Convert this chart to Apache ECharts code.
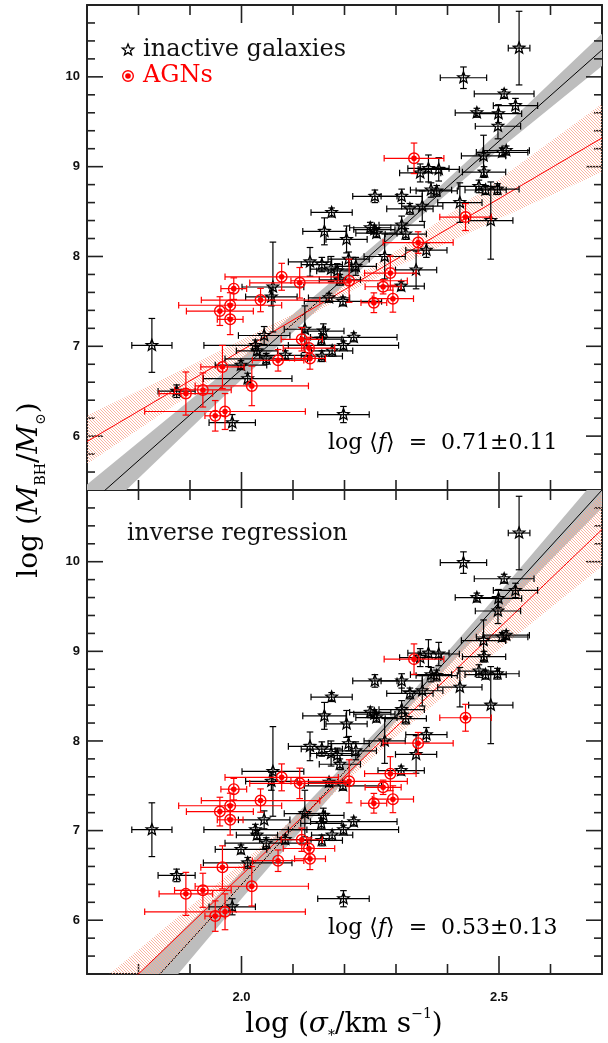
<!DOCTYPE html>
<html>
<head>
<meta charset="utf-8">
<script src="https://cdn.jsdelivr.net/npm/echarts@6/dist/echarts.min.js"></script>
<style>
  html, body { margin: 0; padding: 0; background: #fff; }
  #chart { width: 608px; height: 1043px; }
</style>
</head>
<body>
<div id="chart"></div>
<script>
// inactive galaxies: log sigma, log M_BH (same in both panels)
const inactiveSigma = [2.539, 2.431, 2.510, 2.532, 2.457, 2.499, 2.498, 2.506, 2.514, 2.470,
  2.471, 2.461, 2.474, 2.497, 2.484, 2.424, 2.347, 2.363, 2.383, 2.368,
  2.379, 2.259, 2.311, 2.327, 2.351, 2.311, 2.319, 2.250, 2.258, 2.262,
  2.204, 2.278, 2.359, 2.208, 2.175, 2.161, 2.133, 2.156, 2.174, 2.186,
  2.191, 2.222, 2.310, 2.061, 2.058, 2.170, 2.197, 2.123, 2.159, 2.155,
  2.218, 2.198, 2.176, 2.156, 2.085, 2.044, 2.027, 2.048, 2.030, 1.999,
  2.012, 1.826, 1.874, 1.982, 2.198, 2.339]
const inactiveSigmaErr = [0.021, 0.045, 0.058, 0.043, 0.042, 0.045, 0.044, 0.05, 0.045, 0.043,
  0.042, 0.04, 0.04, 0.042, 0.043, 0.043, 0.04, 0.04, 0.04, 0.04,
  0.04, 0.043, 0.04, 0.045, 0.04, 0.044, 0.04, 0.04, 0.04, 0.04,
  0.04, 0.04, 0.04, 0.04, 0.04, 0.042, 0.042, 0.04, 0.04, 0.04,
  0.04, 0.04, 0.045, 0.06, 0.05, 0.04, 0.075, 0.04, 0.04, 0.04,
  0.084, 0.107, 0.04, 0.04, 0.05, 0.05, 0.1, 0.08, 0.04, 0.05,
  0.086, 0.039, 0.036, 0.045, 0.05, 0.04]
const inactiveMass = [10.32, 9.99, 9.81, 9.68, 9.60, 9.59, 9.45, 9.16, 9.18, 9.12,
  8.94, 8.78, 8.74, 8.75, 8.40, 8.60, 8.93, 8.98, 8.97, 8.74,
  8.73, 8.67, 8.67, 8.53, 8.56, 8.35, 8.25, 8.32, 8.30, 8.26,
  8.19, 8.00, 8.07, 7.97, 8.49, 8.28, 7.94, 7.91, 7.86, 7.84,
  7.74, 7.89, 7.67, 7.66, 7.55, 7.54, 7.50, 7.19, 7.17, 7.08,
  7.10, 7.01, 6.95, 6.89, 6.90, 7.12, 7.01, 6.86, 6.95, 6.79,
  6.64, 7.01, 6.50, 6.15, 6.24, 7.85]
const inactiveMassErr = [0.41, 0.12, 0.05, 0.08, 0.05, 0.10, 0.14, 0.05, 0.05, 0.23,
  0.06, 0.07, 0.05, 0.06, 0.43, 0.22, 0.10, 0.15, 0.13, 0.08,
  0.06, 0.07, 0.08, 0.06, 0.17, 0.10, 0.06, 0.06, 0.05, 0.05,
  0.15, 0.25, 0.08, 0.08, 0.05, 0.15, 0.16, 0.08, 0.14, 0.08,
  0.06, 0.10, 0.05, 0.50, 0.10, 0.05, 0.05, 0.26, 0.08, 0.06,
  0.05, 0.05, 0.06, 0.06, 0.05, 0.10, 0.06, 0.06, 0.05, 0.05,
  0.06, 0.30, 0.07, 0.09, 0.09, 0.21]

// AGNs: log sigma, log virial product; mass = virial product + log f
const agnSigma = [2.078, 2.113, 1.985, 1.978, 1.958, 1.978, 2.037, 1.963, 1.925, 1.892,
  2.020, 1.949, 1.968, 2.071, 2.117, 2.131, 2.133, 2.209, 2.289, 2.275,
  2.257, 2.294, 2.335, 2.435, 2.343]
const agnSigmaErr = [0.11, 0.097, 0.025, 0.10, 0.065, 0.025, 0.115, 0.042, 0.055, 0.052,
  0.11, 0.02, 0.156, 0.05, 0.04, 0.05, 0.03, 0.113, 0.05, 0.035,
  0.025, 0.04, 0.058, 0.05, 0.068]
const agnVirial = [7.064, 6.997, 6.932, 6.747, 6.682, 6.590, 6.805, 6.060, 5.804, 5.764,
  5.849, 5.516, 5.564, 6.134, 6.368, 6.270, 6.155, 7.020, 7.105, 6.953,
  6.775, 6.820, 8.383, 7.729, 7.445]
const agnVirialErr = [0.15, 0.17, 0.12, 0.14, 0.16, 0.17, 0.13, 0.24, 0.19, 0.24,
  0.22, 0.17, 0.20, 0.12, 0.13, 0.12, 0.12, 0.24, 0.19, 0.08,
  0.11, 0.15, 0.17, 0.15, 0.12]
const logF = [0.71, 0.53]
const logFErr = [0.11, 0.13]

// fits, per panel (top, bottom)
const fitX = [1.7, 2.7]
const inactiveFit = [[5.22, 10.30], [4.51, 10.80]]
const agnFit = [[5.94, 9.32], [4.85, 10.36]]
const grayBandX = [1.7, 2.0, 2.3, 2.5, 2.7]
const grayLow = [[4.98, 6.63, 8.21, 9.19, 10.12], [4.19, 6.24, 8.22, 9.43, 10.60]]
const grayHigh = [[5.46, 6.87, 8.33, 9.39, 10.48], [4.83, 6.54, 8.34, 9.65, 11.00]]
const redBandX = [1.7, 1.9, 2.1, 2.2, 2.3, 2.5, 2.7]
const redLow = [[5.69, 6.46, 7.22, 7.57, 7.88, 8.42, 8.94], [4.51, 5.75, 6.97, 7.53, 8.05, 9.02, 9.95]]
const redHigh = [[6.23, 6.78, 7.36, 7.69, 8.06, 8.86, 9.70], [5.19, 6.15, 7.13, 7.67, 8.25, 9.50, 10.77]]

// axes and ticks
const xRange = [1.7, 2.7]
const yRange = [5.4, 10.8]
const xMajor = [2.0, 2.5]
const xMinor = [1.8, 1.9, 2.1, 2.2, 2.3, 2.4, 2.6]
const yMajor = [6, 7, 8, 9, 10]
const yMinor = [5.6, 5.8, 6.2, 6.4, 6.6, 6.8, 7.2, 7.4, 7.6, 7.8, 8.2, 8.4, 8.6, 8.8,
  9.2, 9.4, 9.6, 9.8, 10.2, 10.4, 10.6]

const RED = '#ff0000'
const INK = '#000'
const AXIS = '#222'
const SERIF = '"DejaVu Serif", serif'

// hatch pattern for the AGN band
const hatch = document.createElement('canvas')
hatch.width = 3
hatch.height = 3
const hctx = hatch.getContext('2d')
hctx.strokeStyle = '#f9ab96'
hctx.lineWidth = 0.9
hctx.beginPath()
hctx.moveTo(0, 0); hctx.lineTo(3, 3)
hctx.moveTo(-1, 2); hctx.lineTo(1, 4)
hctx.moveTo(2, -1); hctx.lineTo(4, 1)
hctx.stroke()

function starPoints (cx, cy, R, r) {
  const pts = []
  for (let i = 0; i < 10; i++) {
    const a = -Math.PI / 2 + i * Math.PI / 5
    const rad = i % 2 ? r : R
    pts.push([cx + rad * Math.cos(a), cy + rad * Math.sin(a)])
  }
  return pts
}

function starShape (cx, cy) {
  return { type: 'polygon', shape: { points: starPoints(cx, cy, 6, 2.6) }, style: { fill: 'none', stroke: INK, lineWidth: 1.3 } }
}

function agnShape (cx, cy) {
  return [
    { type: 'circle', shape: { cx: cx, cy: cy, r: 5.3 }, style: { fill: 'none', stroke: RED, lineWidth: 1.4 } },
    { type: 'circle', shape: { cx: cx, cy: cy, r: 2.8 }, style: { fill: RED } }
  ]
}

// error bars + marker
function pointRenderer (color, marker) {
  return function (params, api) {
    const x = api.value(0)
    const y = api.value(1)
    const xe = api.value(2)
    const ye = api.value(3)
    const c = api.coord([x, y])
    const l = api.coord([x - xe, y])
    const r = api.coord([x + xe, y])
    const t = api.coord([x, y + ye])
    const b = api.coord([x, y - ye])
    const cap = 3.3
    const st = { stroke: color, lineWidth: 1.2 }
    const seg = (x1, y1, x2, y2) => ({ type: 'line', shape: { x1: x1, y1: y1, x2: x2, y2: y2 }, style: st })
    const children = [
      seg(l[0], l[1], r[0], r[1]),
      seg(l[0], l[1] - cap, l[0], l[1] + cap),
      seg(r[0], r[1] - cap, r[0], r[1] + cap),
      seg(t[0], t[1], b[0], b[1]),
      seg(t[0] - cap, t[1], t[0] + cap, t[1]),
      seg(b[0] - cap, b[1], b[0] + cap, b[1])
    ]
    return { type: 'group', children: children.concat(marker(c[0], c[1])) }
  }
}

function bandPolygon (api, xs, lo, hi, style) {
  const pts = []
  xs.forEach((x, i) => pts.push(api.coord([x, lo[i]])))
  for (let i = xs.length - 1; i >= 0; i--) pts.push(api.coord([xs[i], hi[i]]))
  return { type: 'polygon', shape: { points: pts }, style: style }
}

// inside ticks on the four sides, as thin filled bars
function tickBars (api) {
  const out = []
  const bar = (a, b, w) => {
    const pts = Math.abs(a[0] - b[0]) < 0.01
      ? [[a[0] - w, a[1]], [a[0] + w, a[1]], [b[0] + w, b[1]], [b[0] - w, b[1]]]
      : [[a[0], a[1] - w], [a[0], a[1] + w], [b[0], b[1] + w], [b[0], b[1] - w]]
    out.push({ type: 'polygon', shape: { points: pts }, style: { fill: AXIS } })
  }
  const xTick = (v, len) => {
    const bot = api.coord([v, yRange[0]])
    const top = api.coord([v, yRange[1]])
    bar(bot, [bot[0], bot[1] - len], 0.8)
    bar(top, [top[0], top[1] + len], 0.8)
  }
  const yTick = (v, len) => {
    const lft = api.coord([xRange[0], v])
    const rgt = api.coord([xRange[1], v])
    bar(lft, [lft[0] + len, lft[1]], 0.8)
    bar(rgt, [rgt[0] - len, rgt[1]], 0.8)
  }
  xMajor.forEach(v => xTick(v, 18))
  xMinor.forEach(v => xTick(v, 10))
  yMajor.forEach(v => yTick(v, 16))
  yMinor.forEach(v => yTick(v, 8))
  return out
}

// gray band of the inactive fit, with the frame ticks in the same group
function grayBandRenderer (p) {
  return function (params, api) {
    const band = bandPolygon(api, grayBandX, grayLow[p], grayHigh[p], { fill: '#bdbdbd' })
    return { type: 'group', children: [band].concat(tickBars(api)) }
  }
}

function redBandRenderer (p) {
  return function (params, api) {
    return bandPolygon(api, redBandX, redLow[p], redHigh[p], { fill: { image: hatch, repeat: 'repeat' } })
  }
}

const tickFont = { color: '#111', fontFamily: 'Liberation Sans', fontWeight: 'bold', fontSize: 13 }

function xAxes (grid, showLabels) {
  const base = { gridIndex: grid, type: 'value', min: xRange[0], max: xRange[1], splitLine: { show: false }, axisTick: { show: false } }
  const line = { show: true, onZero: false, lineStyle: { color: AXIS, width: 2 } }
  return [
    Object.assign({}, base, {
      position: 'bottom', axisLine: line,
      axisLabel: Object.assign({ show: showLabels, customValues: xMajor, formatter: v => v.toFixed(1), margin: 17 }, tickFont)
    }),
    Object.assign({}, base, { position: 'top', axisLine: line, axisLabel: { show: false } })
  ]
}

function yAxes (grid) {
  const base = { gridIndex: grid, type: 'value', min: yRange[0], max: yRange[1], splitLine: { show: false }, axisTick: { show: false } }
  const line = { show: true, onZero: false, lineStyle: { color: AXIS, width: 2 } }
  return [
    Object.assign({}, base, {
      position: 'left', axisLine: line,
      axisLabel: Object.assign({ show: true, customValues: yMajor, formatter: v => String(v), margin: 7 }, tickFont)
    }),
    Object.assign({}, base, { position: 'right', axisLine: line, axisLabel: { show: false } })
  ]
}

function panelSeries (p) {
  const ax = { xAxisIndex: p * 2, yAxisIndex: p * 2 }
  const inactiveData = inactiveSigma.map((x, i) => [x, inactiveMass[i], inactiveSigmaErr[i], inactiveMassErr[i]])
  const agnData = agnSigma.map((x, i) => [x, agnVirial[i] + logF[p], agnSigmaErr[i], agnVirialErr[i]])
  return [
    Object.assign({ type: 'custom', z: 1, clip: true, data: [[0]], silent: true,
      renderItem: grayBandRenderer(p) }, ax),
    Object.assign({ type: 'line', z: 2, clip: true, showSymbol: false, silent: true,
      data: fitX.map((x, i) => [x, inactiveFit[p][i]]), lineStyle: { color: INK, width: 1 } }, ax),
    Object.assign({ type: 'custom', z: 3, clip: true, data: [[0]], silent: true,
      renderItem: redBandRenderer(p) }, ax),
    Object.assign({ type: 'line', z: 4, clip: true, showSymbol: false, silent: true,
      data: fitX.map((x, i) => [x, agnFit[p][i]]), lineStyle: { color: RED, width: 1 } }, ax),
    Object.assign({ type: 'custom', z: 5, clip: true, data: inactiveData, encode: { x: 0, y: 1 },
      renderItem: pointRenderer(INK, starShape) }, ax),
    Object.assign({ type: 'custom', z: 6, clip: true, data: agnData, encode: { x: 0, y: 1 },
      renderItem: pointRenderer(RED, agnShape) }, ax)
  ]
}

const fRich = {
  a: { fontFamily: SERIF, fontSize: 22, color: '#111' },
  i: { fontFamily: SERIF, fontSize: 22, fontStyle: 'italic', color: '#111' }
}
function fText (p) {
  return '{a|log ⟨}{i|f}{a|⟩  =  ' + logF[p].toFixed(2) + '±' + logFErr[p].toFixed(2) + '}'
}

const chart = echarts.init(document.getElementById('chart'), null, { renderer: 'canvas' })
chart.setOption({
  animation: false,
  backgroundColor: '#fff',
  grid: [
    { left: 87, right: 6, top: 5, height: 485 },
    { left: 87, right: 6, top: 490, height: 484 }
  ],
  xAxis: xAxes(0, false).concat(xAxes(1, true)),
  yAxis: yAxes(0).concat(yAxes(1)),
  series: panelSeries(0).concat(panelSeries(1)),
  graphic: [
    { type: 'polygon', shape: { points: starPoints(128, 50, 6, 2.6) }, style: { fill: 'none', stroke: INK, lineWidth: 1.3 } },
    { type: 'text', x: 143, y: 50, style: { text: 'inactive galaxies', fontFamily: SERIF, fontSize: 24, fill: '#111', textVerticalAlign: 'middle' } },
    { type: 'circle', shape: { cx: 128, cy: 76, r: 5.3 }, style: { fill: 'none', stroke: RED, lineWidth: 1.4 } },
    { type: 'circle', shape: { cx: 128, cy: 76, r: 2.8 }, style: { fill: RED } },
    { type: 'text', x: 143, y: 76, style: { text: 'AGNs', fontFamily: SERIF, fontSize: 24, fill: RED, textVerticalAlign: 'middle' } },
    { type: 'text', x: 328, y: 443, style: { text: fText(0), rich: fRich, textVerticalAlign: 'middle' } },
    { type: 'text', x: 127, y: 534, style: { text: 'inverse regression', fontFamily: SERIF, fontSize: 23.5, fill: '#111', textVerticalAlign: 'middle' } },
    { type: 'text', x: 328, y: 928, style: { text: fText(1), rich: fRich, textVerticalAlign: 'middle' } },
    {
      type: 'text', x: 30, y: 490, rotation: Math.PI / 2,
      style: {
        text: '{a|log (}{i|M}{s|BH}{a|/}{i|M}{s|⊙}{a|)}',
        textAlign: 'center', textVerticalAlign: 'middle',
        rich: {
          a: { fontFamily: SERIF, fontSize: 28, lineHeight: 36, color: '#111' },
          i: { fontFamily: SERIF, fontSize: 28, lineHeight: 36, fontStyle: 'italic', color: '#111' },
          s: { fontFamily: SERIF, fontSize: 14, lineHeight: 14, verticalAlign: 'bottom', color: '#111' }
        }
      }
    },
    {
      type: 'text', x: 344, y: 1025,
      style: {
        text: '{a|log (}{i|σ}{s|*}{a|/km s}{u|−1}{a|)}',
        textAlign: 'center', textVerticalAlign: 'middle',
        rich: {
          a: { fontFamily: SERIF, fontSize: 28, lineHeight: 36, color: '#111' },
          i: { fontFamily: SERIF, fontSize: 28, lineHeight: 36, fontStyle: 'italic', color: '#111' },
          s: { fontFamily: SERIF, fontSize: 14, lineHeight: 14, verticalAlign: 'bottom', color: '#111' },
          u: { fontFamily: SERIF, fontSize: 14, lineHeight: 18, verticalAlign: 'top', color: '#111' }
        }
      }
    }
  ]
})
</script>
</body>
</html>
